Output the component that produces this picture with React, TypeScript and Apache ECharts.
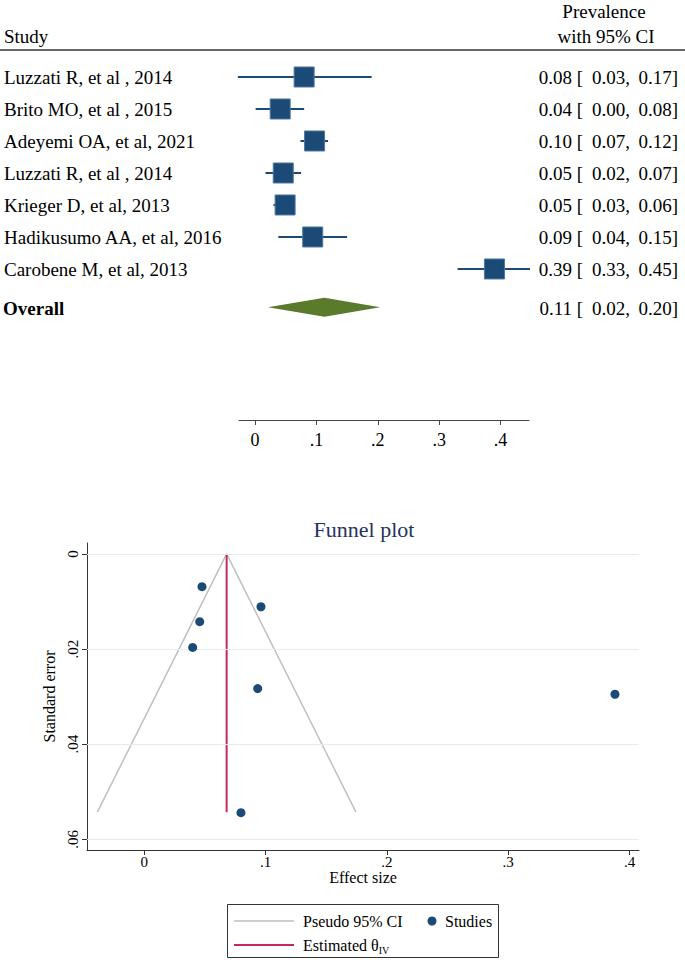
import React, { useEffect, useRef } from "react";
import * as echarts from "echarts";

const FONT = "'Liberation Serif', 'Times New Roman', serif";

// ---------- Forest plot data ----------
const studies = [
  "Luzzati R, et al , 2014",
  "Brito MO, et al , 2015",
  "Adeyemi OA, et al, 2021",
  "Luzzati R, et al , 2014",
  "Krieger D, et al, 2013",
  "Hadikusumo AA, et al, 2016",
  "Carobene M, et al, 2013",
];
const estimates = [0.08, 0.041, 0.097, 0.046, 0.049, 0.094, 0.39];
const ciLower = [0.03, 0.0, 0.07, 0.02, 0.03, 0.04, 0.33];
const ciUpper = [0.17, 0.08, 0.12, 0.07, 0.06, 0.15, 0.45];
const whiskerLow = [-0.028, 0.001, 0.074, 0.017, 0.03, 0.038, 0.33];
const whiskerHigh = [0.19, 0.08, 0.119, 0.075, 0.06, 0.15, 0.448];
const overallLabel = "Overall";
const overallEstimate = 0.113;
const overallLower = 0.021;
const overallUpper = 0.204;
const forestTicks = [0, 0.1, 0.2, 0.3, 0.4];

// ---------- Funnel plot data ----------
const effectSizes = [0.0797, 0.0399, 0.0962, 0.0457, 0.0476, 0.0935, 0.388];
const standardErrors = [0.0544, 0.01965, 0.0111, 0.01425, 0.00688, 0.0283, 0.0295];
const thetaIV = 0.0679;
const funnelSeMax = 0.0543;
const pseudoCI: [number, number][] = [
  [-0.0387, 0.0543],
  [0.0679, 0],
  [0.1745, 0.0543],
];
const funnelXTicks = [0, 0.1, 0.2, 0.3, 0.4];
const funnelYTicks = [0, 0.02, 0.04, 0.06];

const BLUE = "#1c4a76";
const GREEN = "#5a7a2c";
const RED = "#c8285a";
const GRAY = "#bfbfbf";

const fmtX = (v: number) => (v === 0 ? "0" : v.toFixed(1).replace(/^0/, ""));
const fmtY = (v: number) => (v === 0 ? "0" : v.toFixed(2).replace(/^0/, ""));

function txt(text: string, x: number, y: number, align: string, extra: any = {}) {
  return {
    type: "text",
    x,
    y,
    style: {
      text,
      fill: "#000",
      fontSize: 19,
      fontFamily: FONT,
      align,
      verticalAlign: "middle",
      textAlign: align,
      textVerticalAlign: "middle",
      ...extra,
    },
  };
}

function ciTexts(est: number, lo: number, hi: number, y: number) {
  return [
    txt(est.toFixed(2) + " [", 583, y, "right"),
    txt(lo.toFixed(2) + ",", 630, y, "right"),
    txt(hi.toFixed(2) + "]", 678, y, "right"),
  ];
}

export default function App() {
  const ref = useRef<HTMLDivElement>(null);
  useEffect(() => {
    if (!ref.current) return;
    const chart = echarts.init(ref.current, undefined, { renderer: "svg" });

    const studyData = studies.map((_, i) => [whiskerLow[i], whiskerHigh[i], estimates[i], i + 1]);
    const overallData = [[overallLower, overallUpper, overallEstimate, studies.length + 1.2]];

    const option: any = {
      animation: false,
      backgroundColor: "#fff",
      textStyle: { fontFamily: FONT },
      grid: [
        { left: 239, top: 45, width: 290, height: 375 },
        { left: 87, top: 543, width: 552, height: 307 },
      ],
      xAxis: [
        {
          type: "value",
          gridIndex: 0,
          position: "bottom",
          min: -0.0261,
          max: 0.4463,
          axisLine: { show: true, onZero: false, lineStyle: { color: "#444", width: 1 } },
          axisTick: { show: true, length: 5, customValues: forestTicks, lineStyle: { color: "#444" } },
          axisLabel: {
            customValues: forestTicks,
            formatter: fmtX,
            fontSize: 18,
            fontFamily: FONT,
            color: "#000",
            margin: 11,
          },
          splitLine: { show: false },
        },
        {
          type: "value",
          gridIndex: 1,
          position: "bottom",
          min: -0.0472,
          max: 0.4078,
          axisLine: { show: true, onZero: false, lineStyle: { color: "#333", width: 1 } },
          axisTick: { show: true, length: 5, customValues: funnelXTicks, lineStyle: { color: "#333" } },
          axisLabel: {
            customValues: funnelXTicks,
            formatter: fmtX,
            fontSize: 15,
            fontFamily: FONT,
            color: "#000",
            margin: 4,
          },
          splitLine: { show: false },
          name: "Effect size",
          nameLocation: "middle",
          nameGap: 19,
          nameTextStyle: { fontSize: 16, fontFamily: FONT, color: "#000", verticalAlign: "top" },
        },
      ],
      yAxis: [
        {
          type: "value",
          gridIndex: 0,
          inverse: true,
          min: 0,
          max: 11.72,
          show: false,
        },
        {
          type: "value",
          gridIndex: 1,
          position: "left",
          inverse: true,
          min: -0.0023,
          max: 0.06225,
          axisLine: { show: true, onZero: false, lineStyle: { color: "#333", width: 1 } },
          axisTick: { show: true, length: 5, customValues: funnelYTicks, lineStyle: { color: "#333" } },
          axisLabel: {
            customValues: funnelYTicks,
            formatter: fmtY,
            rotate: 90,
            fontSize: 15,
            fontFamily: FONT,
            color: "#000",
            margin: 7,
          },
          splitLine: { show: false },
          name: "Standard error",
          nameLocation: "middle",
          nameGap: 25,
          nameTextStyle: { fontSize: 16, fontFamily: FONT, color: "#000" },
        },
      ],
      series: [
        {
          type: "custom",
          name: "Studies forest",
          xAxisIndex: 0,
          yAxisIndex: 0,
          encode: { x: [0, 1, 2], y: 3 },
          data: studyData,
          renderItem: (params: any, api: any) => {
            const i = params.dataIndex;
            const y = api.value(3);
            const lo = api.coord([api.value(0), y]);
            const hi = api.coord([api.value(1), y]);
            const c = api.coord([api.value(2), y]);
            return {
              type: "group",
              children: [
                {
                  type: "line",
                  shape: { x1: lo[0], y1: lo[1], x2: hi[0], y2: hi[1] },
                  style: { stroke: BLUE, lineWidth: 2 },
                },
                {
                  type: "rect",
                  shape: { x: c[0] - 10, y: c[1] - 10, width: 20, height: 20 },
                  style: { fill: BLUE, stroke: "#4d77a0", lineWidth: 1 },
                },
                txt(studies[i], 4, c[1] + 1, "left"),
                ...ciTexts(estimates[i], ciLower[i], ciUpper[i], c[1] + 1),
              ],
            };
          },
        },
        {
          type: "custom",
          name: "Overall",
          xAxisIndex: 0,
          yAxisIndex: 0,
          encode: { x: [0, 1, 2], y: 3 },
          data: overallData,
          renderItem: (_params: any, api: any) => {
            const y = api.value(3);
            const lo = api.coord([api.value(0), y]);
            const hi = api.coord([api.value(1), y]);
            const c = api.coord([api.value(2), y]);
            return {
              type: "group",
              children: [
                {
                  type: "polygon",
                  shape: {
                    points: [
                      [lo[0], lo[1]],
                      [c[0], c[1] - 9.5],
                      [hi[0], hi[1]],
                      [c[0], c[1] + 9.5],
                    ],
                  },
                  style: { fill: GREEN },
                },
                txt(overallLabel, 3, c[1] + 1, "left", { fontWeight: "bold" }),
                ...ciTexts(api.value(2), api.value(0), api.value(1), c[1] + 1),
              ],
            };
          },
        },
        {
          type: "line",
          name: "Pseudo 95% CI",
          xAxisIndex: 1,
          yAxisIndex: 1,
          data: pseudoCI,
          symbol: "none",
          lineStyle: { color: GRAY, width: 1.5 },
          silent: true,
          markLine: {
            silent: true,
            symbol: "none",
            label: { show: false },
            lineStyle: { color: "#e2edef", width: 1, type: "solid" },
            data: funnelYTicks.map((v) => ({ yAxis: v })),
          },
          z: 3,
        },
        {
          type: "line",
          name: "Estimated θIV",
          xAxisIndex: 1,
          yAxisIndex: 1,
          data: [
            [thetaIV, 0],
            [thetaIV, funnelSeMax],
          ],
          symbol: "none",
          lineStyle: { color: RED, width: 2 },
          silent: true,
          z: 4,
        },
        {
          type: "scatter",
          name: "Studies",
          xAxisIndex: 1,
          yAxisIndex: 1,
          data: effectSizes.map((x, i) => [x, standardErrors[i]]),
          symbol: "circle",
          symbolSize: 9,
          itemStyle: { color: BLUE, opacity: 1 },
          z: 5,
        },
      ],
      graphic: [
        // forest header
        txt("Study", 4, 36, "left"),
        txt("Prevalence", 604, 11, "center"),
        txt("with 95% CI", 606, 36, "center"),
        {
          type: "line",
          shape: { x1: 0, y1: 50, x2: 685, y2: 50 },
          style: { stroke: "#333", lineWidth: 1.5 },
        },
        // funnel title
        {
          type: "text",
          x: 364,
          y: 529,
          style: {
            text: "Funnel plot",
            fill: "#26335e",
            fontSize: 22,
            fontFamily: FONT,
            align: "center",
            verticalAlign: "middle",
            textAlign: "center",
            textVerticalAlign: "middle",
          },
        },
        // legend
        {
          type: "rect",
          shape: { x: 227.5, y: 904.5, width: 271, height: 53 },
          style: { fill: "#fff", stroke: "#333", lineWidth: 1 },
        },
        {
          type: "line",
          shape: { x1: 234, y1: 921, x2: 294, y2: 921 },
          style: { stroke: GRAY, lineWidth: 1.5 },
        },
        txt("Pseudo 95% CI", 303, 921, "left", { fontSize: 16 }),
        {
          type: "circle",
          shape: { cx: 432, cy: 921, r: 4.5 },
          style: { fill: BLUE },
        },
        txt("Studies", 445, 921, "left", { fontSize: 16 }),
        {
          type: "line",
          shape: { x1: 234, y1: 945, x2: 294, y2: 945 },
          style: { stroke: RED, lineWidth: 2 },
        },
        {
          type: "text",
          x: 303,
          y: 945,
          style: {
            text: "{a|Estimated θ}{sub|IV}",
            fill: "#000",
            fontFamily: FONT,
            fontSize: 16,
            align: "left",
            verticalAlign: "middle",
            textAlign: "left",
            textVerticalAlign: "middle",
            rich: {
              a: { fontSize: 16, fontFamily: FONT, lineHeight: 20, verticalAlign: "middle" },
              sub: { fontSize: 10, fontFamily: FONT, lineHeight: 10, verticalAlign: "bottom" },
            },
          },
        },
      ],
    };

    chart.setOption(option);
    return () => chart.dispose();
  }, []);

  return (
    <div
      ref={ref}
      style={{ position: "absolute", left: 0, top: 0, width: 685, height: 960, background: "#fff" }}
    />
  );
}
